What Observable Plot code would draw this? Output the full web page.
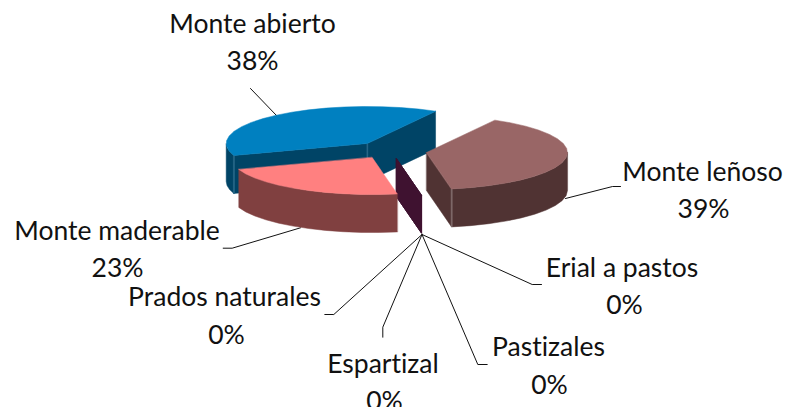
<!DOCTYPE html>
<html><head><meta charset="utf-8">
<script src="https://cdn.jsdelivr.net/npm/d3@7"></script>
<script src="https://cdn.jsdelivr.net/npm/@observablehq/plot@0.6"></script>
<style>html,body{margin:0;padding:0;background:#fff;overflow:hidden}svg{display:block}svg text{font-variant-ligatures:none}</style>
</head><body><div id="chart"></div>
<script>
// Data, in pie order (clockwise)
const categories = ["Monte leñoso","Erial a pastos","Pastizales","Espartizal","Prados naturales","Monte maderable","Monte abierto"];
const shares = [39.1,0,0,0,0,22.6,38.3];

// Styles
const topColors = ["#996666","#660066","#660066","#660066","#660066","#FF8080","#0080C0"];
const sideColors = ["#503333","#3F1230","#3F1230","#3F1230","#3F1230","#804040","#004466"];
const edgeColors = ["#8c7a7a","none","none","none","none","none","#2f6f90"];
const explodeX = [33.5,3.5,3.5,3.5,3.5,-20.8,-25.8];
const explodeY = [2,8.3,8.3,8.3,8.3,7,-7];
const drawOrder = [6,1,2,3,4,0,5];

// Pie geometry
const W = 785, H = 407, rx = 141, ry = 37, depth = 38, cx = 392.5, cy = 150;
const deg = Math.PI / 180;
const arcs = d3.pie().sort(null).startAngle(29*deg).endAngle(389*deg)(shares);
const pointOn = (c, a) => [c[0] + rx * Math.sin(a), c[1] - ry * Math.cos(a)];
const arcPts = (c, a0, a1) => {
  const n = Math.max(1, Math.ceil((a1 - a0) / (8 * deg)));
  return d3.range(n + 1).map(i => pointOn(c, a0 + (a1 - a0) * i / n));
};
const faces = [];
const addFace = (id, fill, pts) => pts.forEach(p => faces.push({id, fill, x: p[0], y: p[1]}));
const down = p => [p[0], p[1] + depth];
for (const i of drawOrder) {
  const {startAngle: a0, endAngle: a1, value} = arcs[i];
  const c = [cx + explodeX[i], cy + explodeY[i]];
  const side = sideColors[i];
  const wall = (a, key) => {
    const v = pointOn(c, a);
    addFace(i + key, side, [c, v, down(v), down(c)]);
  };
  if (Math.sin(a0) < 0) wall(a0, "s");
  if (Math.sin(a1) > 0) wall(a1, "e");
  // outer rim: only its front half can be seen
  for (const [lo, hi] of [[90, 270], [450, 630]]) {
    const b0 = Math.max(a0, lo * deg), b1 = Math.min(a1, hi * deg);
    if (b1 > b0) {
      const rim = arcPts(c, b0, b1);
      addFace(i + "r" + lo, side, [...rim, ...rim.slice().reverse().map(down)]);
    }
  }
  if (edgeColors[i] !== "none") {
    const add = (p, k) => addFace(i + k, edgeColors[i], [p, [p[0] + 0.6, p[1]], [p[0] + 0.6, p[1] + depth], down(p)]);
    if (i === 0) add(pointOn(c, a1), "a");
    else { add(pointOn(c, a0), "a"); add(c, "b"); }
  }
  if (value > 0) addFace(i + "t", topColors[i], [c, ...arcPts(c, a0, a1)]);
}

// Labels: text centre and baselines
const labelX = [702,621.5,548,382.5,224,116.5,252];
const percentX = [703,624,549,384,226,117,252];
const nameY = [180,276,355,372,305,239,32];
const percentY = [217,313,393,409,343,276,69];
const labels = categories.flatMap((c, i) => [
  {t: c, x: labelX[i], y: nameY[i]},
  {t: d3.format(".0f")(shares[i]) + "%", x: percentX[i], y: percentY[i]}
]);

// Leader lines
const hub = [421.5,234];
const leaders = [
  [[565,198],[612,186],[620,186]],
  [hub,[531.7,284],[541,284]],
  [hub,[477.3,364],[486.7,364]],
  [hub,[382.3,326.7],[382.3,336.7]],
  [hub,[333.3,314],[324.3,314]],
  [[300,227.3],[231.7,247.7],[222.7,247.7]],
  [[276,115],[250,88]]
].flatMap((l, i) => l.map(p => ({i, x: p[0], y: p[1]})));

const chart = Plot.plot({
  width: W, height: H, margin: 0,
  x: {domain: [0, W], range: [0, W], axis: null},
  y: {domain: [0, H], range: [0, H], axis: null},
  style: {background: "#fff", overflow: "hidden"},
  marks: [
    Plot.line(leaders, {x: "x", y: "y", z: "i", stroke: "#111", strokeWidth: 1, curve: "linear"}),
    Plot.line(faces, {x: "x", y: "y", z: "id", fill: "fill", stroke: "fill", strokeWidth: 0.5, curve: "linear-closed"}),
    Plot.text(labels, {x: "x", y: "y", text: "t", lineAnchor: "bottom", textAnchor: "middle", fontSize: 26.5, fontFamily: "Lato", fill: "#111"})
  ]
});
document.getElementById("chart").append(chart);
</script></body></html>
